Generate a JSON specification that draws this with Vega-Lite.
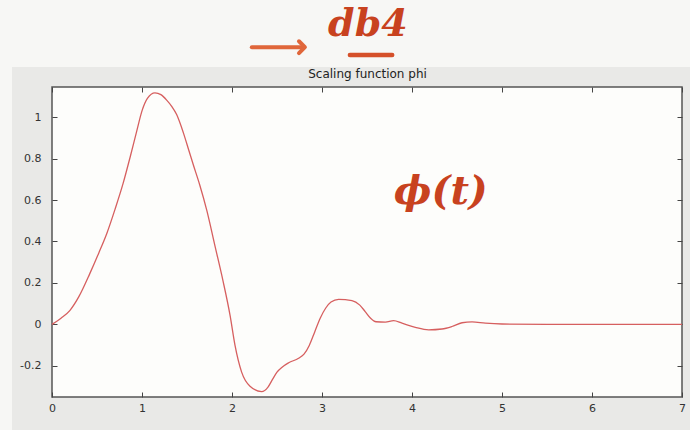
{
  "$schema": "https://vega.github.io/schema/vega-lite/v6.json",
  "width": 630,
  "height": 310,
  "autosize": {"type": "none"},
  "padding": {"left": 52, "top": 87, "right": 8, "bottom": 33},
  "background": "#e9e9e7",
  "config": {
    "view": {"stroke": "#555555", "strokeWidth": 1.5, "fill": "#fdfdfb"},
    "axis": {
      "domain": false,
      "grid": false,
      "tickColor": "#444444",
      "tickSize": -5,
      "tickWidth": 1,
      "labelFont": "DejaVu Sans",
      "labelFontSize": 11,
      "labelColor": "#333333",
      "titleFont": "DejaVu Sans"
    }
  },
  "data": {
    "values": [
      {"t": 0, "v": 0},
      {"t": 0.1, "v": 0.03},
      {"t": 0.2, "v": 0.068},
      {"t": 0.3, "v": 0.135},
      {"t": 0.42, "v": 0.245},
      {"t": 0.52, "v": 0.345},
      {"t": 0.61, "v": 0.44},
      {"t": 0.7, "v": 0.555},
      {"t": 0.79, "v": 0.68},
      {"t": 0.87, "v": 0.81},
      {"t": 0.94, "v": 0.93},
      {"t": 1.0, "v": 1.03},
      {"t": 1.06, "v": 1.09},
      {"t": 1.144, "v": 1.117},
      {"t": 1.21, "v": 1.108},
      {"t": 1.274, "v": 1.082},
      {"t": 1.33, "v": 1.052},
      {"t": 1.385, "v": 1.012},
      {"t": 1.459, "v": 0.925},
      {"t": 1.52, "v": 0.84},
      {"t": 1.57, "v": 0.77},
      {"t": 1.64, "v": 0.675},
      {"t": 1.72, "v": 0.55},
      {"t": 1.81, "v": 0.38},
      {"t": 1.9, "v": 0.21},
      {"t": 1.978, "v": 0.045},
      {"t": 2.033, "v": -0.1},
      {"t": 2.107, "v": -0.23},
      {"t": 2.2, "v": -0.298},
      {"t": 2.33, "v": -0.324},
      {"t": 2.4, "v": -0.302},
      {"t": 2.45, "v": -0.265},
      {"t": 2.5, "v": -0.23},
      {"t": 2.56, "v": -0.205},
      {"t": 2.63, "v": -0.185},
      {"t": 2.74, "v": -0.163},
      {"t": 2.8, "v": -0.143},
      {"t": 2.86, "v": -0.1},
      {"t": 2.92, "v": -0.035},
      {"t": 2.98, "v": 0.03},
      {"t": 3.04, "v": 0.078},
      {"t": 3.1, "v": 0.108},
      {"t": 3.185, "v": 0.121},
      {"t": 3.333, "v": 0.115},
      {"t": 3.42, "v": 0.093},
      {"t": 3.48, "v": 0.062},
      {"t": 3.54, "v": 0.03},
      {"t": 3.6, "v": 0.013},
      {"t": 3.704, "v": 0.011},
      {"t": 3.796, "v": 0.018},
      {"t": 3.889, "v": 0.006},
      {"t": 4.037, "v": -0.014},
      {"t": 4.185, "v": -0.026},
      {"t": 4.333, "v": -0.022},
      {"t": 4.444, "v": -0.01},
      {"t": 4.556, "v": 0.008},
      {"t": 4.667, "v": 0.012},
      {"t": 4.815, "v": 0.006},
      {"t": 5.0, "v": 0.002},
      {"t": 5.5, "v": 0},
      {"t": 6.0, "v": 0},
      {"t": 6.5, "v": 0},
      {"t": 7.0, "v": 0}
    ]
  },
  "layer": [
    {
      "data": {"values": [{}]},
      "mark": {"type": "rect", "color": "#f7f7f5", "clip": false},
      "encoding": {
        "x": {"datum": -1, "type": "quantitative", "scale": {"domain": [0, 7], "nice": false, "zero": false}, "axis": null},
        "x2": {"datum": 8},
        "y": {"datum": 1.241, "type": "quantitative", "scale": {"domain": [-0.35, 1.145], "nice": false, "zero": false}, "axis": null},
        "y2": {"datum": 2.5}
      }
    },
    {
      "data": {"values": [{}]},
      "mark": {"type": "rect", "color": "#f7f7f5", "clip": false},
      "encoding": {
        "x": {"datum": -1, "type": "quantitative", "scale": {"domain": [0, 7], "nice": false, "zero": false}, "axis": null},
        "x2": {"datum": -0.444},
        "y": {"datum": -0.6, "type": "quantitative", "scale": {"domain": [-0.35, 1.145], "nice": false, "zero": false}, "axis": null},
        "y2": {"datum": 1.241}
      }
    },
    {
      "mark": {"type": "line", "color": "#d65f5f", "strokeWidth": 1.3, "interpolate": "monotone"},
      "encoding": {
        "x": {
          "field": "t", "type": "quantitative",
          "scale": {"domain": [0, 7], "nice": false, "zero": false},
          "axis": {"orient": "bottom", "values": [0, 1, 2, 3, 4, 5, 6, 7], "labelPadding": 10, "title": null, "labelFlush": false}
        },
        "y": {
          "field": "v", "type": "quantitative",
          "scale": {"domain": [-0.35, 1.145], "nice": false, "zero": false},
          "axis": {"orient": "left", "values": [-0.2, 0, 0.2, 0.4, 0.6, 0.8, 1], "labelExpr": "'' + datum.value", "labelPadding": 16, "title": null}
        }
      }
    },
    {
      "mark": {"type": "line", "opacity": 0},
      "encoding": {
        "x": {
          "field": "t", "type": "quantitative",
          "scale": {"domain": [0, 7], "nice": false, "zero": false},
          "axis": {"orient": "top", "values": [0, 1, 2, 3, 4, 5, 6, 7], "labels": false, "title": "Scaling function phi", "titleFontSize": 12, "titleFontWeight": "normal", "titleColor": "#222222", "titlePadding": 6}
        },
        "y": {
          "field": "v", "type": "quantitative",
          "scale": {"domain": [-0.35, 1.145], "nice": false, "zero": false},
          "axis": {"orient": "right", "values": [-0.2, 0, 0.2, 0.4, 0.6, 0.8, 1], "labels": false, "title": null}
        }
      }
    },
    {
      "data": {"values": [{}]},
      "mark": {"type": "text", "text": "db4", "font": "DejaVu Serif", "fontStyle": "italic", "fontWeight": "bold", "fontSize": 38, "color": "#c8421f", "align": "center", "baseline": "alphabetic", "clip": false},
      "encoding": {
        "x": {"datum": 3.51, "type": "quantitative", "scale": {"domain": [0, 7], "nice": false, "zero": false}, "axis": null},
        "y": {"datum": 1.39, "type": "quantitative", "scale": {"domain": [-0.35, 1.145], "nice": false, "zero": false}, "axis": null}
      }
    },
    {
      "data": {"values": [{}]},
      "mark": {"type": "text", "text": "ϕ(t)", "font": "DejaVu Serif", "fontStyle": "italic", "fontWeight": "bold", "fontSize": 40, "color": "#c8421f", "align": "center", "baseline": "middle"},
      "encoding": {
        "x": {"datum": 4.32, "type": "quantitative", "scale": {"domain": [0, 7], "nice": false, "zero": false}, "axis": null},
        "y": {"datum": 0.64, "type": "quantitative", "scale": {"domain": [-0.35, 1.145], "nice": false, "zero": false}, "axis": null}
      }
    },
    {
      "data": {"values": [{}]},
      "mark": {"type": "rule", "color": "#e0663a", "strokeWidth": 4, "strokeCap": "round", "clip": false},
      "encoding": {
        "x": {"datum": 2.22, "type": "quantitative", "scale": {"domain": [0, 7], "nice": false, "zero": false}, "axis": null},
        "x2": {"datum": 2.79},
        "y": {"datum": 1.337, "type": "quantitative", "scale": {"domain": [-0.35, 1.145], "nice": false, "zero": false}, "axis": null}
      }
    },
    {
      "data": {"values": [{}]},
      "mark": {"type": "point", "shape": "M-1,-1L0,0L-1,1", "filled": false, "size": 140, "strokeWidth": 4, "color": "#e0663a", "opacity": 1, "strokeCap": "round", "strokeJoin": "round", "clip": false},
      "encoding": {
        "x": {"datum": 2.81, "type": "quantitative", "scale": {"domain": [0, 7], "nice": false, "zero": false}, "axis": null},
        "y": {"datum": 1.337, "type": "quantitative", "scale": {"domain": [-0.35, 1.145], "nice": false, "zero": false}, "axis": null}
      }
    },
    {
      "data": {"values": [{}]},
      "mark": {"type": "rule", "color": "#d5502a", "strokeWidth": 4.5, "strokeCap": "round", "clip": false},
      "encoding": {
        "x": {"datum": 3.31, "type": "quantitative", "scale": {"domain": [0, 7], "nice": false, "zero": false}, "axis": null},
        "x2": {"datum": 3.78},
        "y": {"datum": 1.299, "type": "quantitative", "scale": {"domain": [-0.35, 1.145], "nice": false, "zero": false}, "axis": null}
      }
    }
  ],
  "resolve": {"axis": {"x": "independent", "y": "independent"}}
}
